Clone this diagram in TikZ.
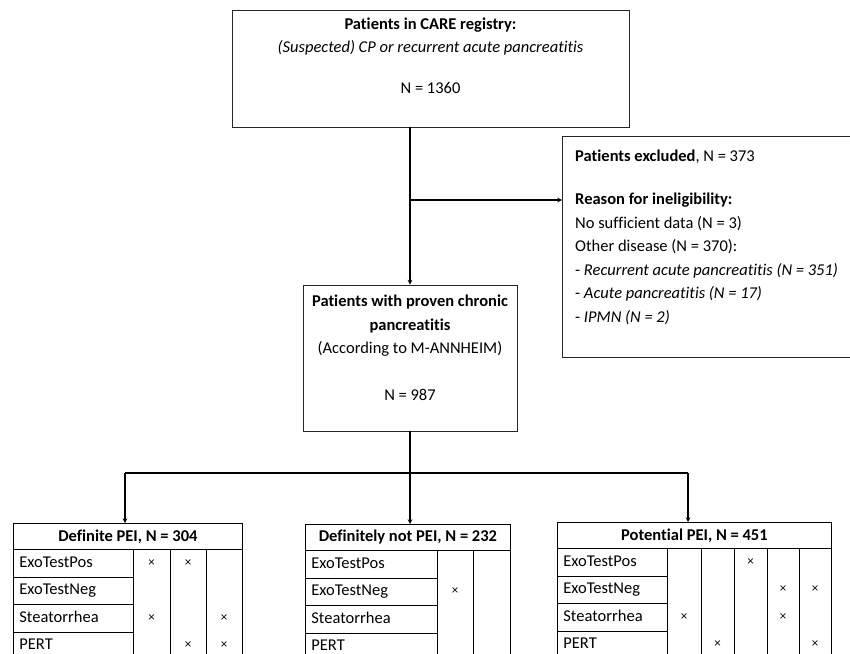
\documentclass[tikz,border=0pt]{standalone}
\usepackage{fontspec}
\setmainfont[Ligatures=NoCommon]{Carlito}
\usetikzlibrary{arrows}

\tikzstyle{flowBox}=[draw=black!85, line width=0.8pt, inner sep=0pt]
\tikzstyle{boxText}=[align=center, inner sep=0pt]
\tikzstyle{flowArrow}=[-stealth, line width=1.1pt]
\tikzstyle{flowLine}=[line width=1.1pt]
\tikzstyle{tableLine}=[line width=0.8pt]
\tikzstyle{headCell}=[draw, line width=0.8pt, inner sep=0pt, anchor=north west, minimum height=26pt, font=\fontsize{16.5}{20}\selectfont\bfseries]
\tikzstyle{labelCell}=[draw, line width=0.8pt, anchor=north west, inner xsep=6pt, inner ysep=0pt, minimum height=27.5pt, text height=11.5pt, text depth=3.5pt, align=left]
\tikzstyle{crossMark}=[inner sep=0pt, font=\fontsize{13}{13}\selectfont]

\begin{document}
\begin{tikzpicture}[x=1pt, y=-1pt, font=\fontsize{16.5}{23.5}\selectfont]
		\useasboundingbox (0,0) rectangle (850,653);
		\clip (0,0) rectangle (850,653);
		
		\node[flowBox, minimum width=397pt, minimum height=117pt] (registry) at (430.5,68.5) {};
		\node[boxText, anchor=north] (registryText) at ([yshift=-8pt]registry.north) {\textbf{Patients in CARE registry:}\\ \textit{(Suspected) CP or recurrent acute pancreatitis}\\[17pt] N = 1360};
		
		\node[flowBox, minimum width=214pt, minimum height=146pt] (chronic) at (410,358) {};
		\node[boxText, anchor=north] (chronicText) at ([yshift=-10.5pt]chronic.north) {\textbf{Patients with proven chronic}\\ \textbf{pancreatitis}\\ (According to M-ANNHEIM)\\[23.5pt] N = 987};
		
		\node[flowBox, anchor=north west, minimum width=300pt, minimum height=221pt] (excluded) at (562,136) {};
		\node[boxText, align=left, anchor=north west] (excludedText) at ([xshift=13pt, yshift=-14pt]excluded.north west) {\textbf{Patients excluded}, N = 373\\[19.5pt] \textbf{Reason for ineligibility:}\\ No sufficient data (N = 3)\\ Other disease (N = 370):\\ - \textit{Recurrent acute pancreatitis (N = 351)}\\ - \textit{Acute pancreatitis (N = 17)}\\ - \textit{IPMN (N = 2)}};
		
		\coordinate (branchExcl) at (410,200);
		\coordinate (splitMid) at (410,473);
		\coordinate (splitDef) at (125,473);
		\coordinate (splitPot) at (688,473);
		
		\draw[flowArrow] (registry.south -| chronic.north) -- (chronic.north);
		\draw[flowArrow] (branchExcl) -- (branchExcl -| excluded.west);
		\draw[flowLine] (chronic.south) -- (splitMid);
		\draw[flowLine] (splitDef) -- (splitPot);
		
		\node[headCell, minimum width=229pt] (defpei) at (13,523) {Definite PEI, N = 304};
		\node[headCell, minimum width=205pt] (notpei) at (305,524) {Definitely not PEI, N = 232};
		\node[headCell, minimum width=274pt] (potpei) at (557,522) {Potential PEI, N = 451};
		
		\draw[flowArrow] (splitDef) -- (splitDef |- defpei.north);
		\draw[flowArrow] (splitMid) -- (splitMid |- notpei.north);
		\draw[flowArrow] (splitPot) -- (splitPot |- potpei.north);
		
		\foreach \lab [count=\i] in {ExoTestPos,ExoTestNeg,Steatorrhea,PERT} {
			\node[labelCell, text width=108pt] (def\i) at (13,{549+27.5*(\i-1)}) {\lab};
			\node[labelCell, text width=120pt] (not\i) at (305,{550+27.5*(\i-1)}) {\lab};
			\node[labelCell, text width=98pt] (pot\i) at (557,{548+27.5*(\i-1)}) {\lab};
		}
		
		\foreach \cx in {133,170,206,242} \draw[tableLine] (\cx,549) -- (\cx,670);
		\foreach \cx in {437,473,510} \draw[tableLine] (\cx,550) -- (\cx,670);
		\foreach \cx in {667,701,734,767,799,831} \draw[tableLine] (\cx,548) -- (\cx,670);
		
		\foreach \cx/\ry [count=\k] in {151.5/1, 188/1, 151.5/3, 224/3, 188/4, 224/4}
			\node[crossMark] (defx\k) at (\cx,{549+27.5*(\ry-0.5)}) {×};
		\node[crossMark] (notx1) at (455,{550+27.5*1.5}) {×};
		\foreach \cx/\ry [count=\k] in {750.5/1, 783/2, 815/2, 684/3, 783/3, 717.5/4, 815/4}
			\node[crossMark] (potx\k) at (\cx,{548+27.5*(\ry-0.5)}) {×};
\end{tikzpicture}
\end{document}
